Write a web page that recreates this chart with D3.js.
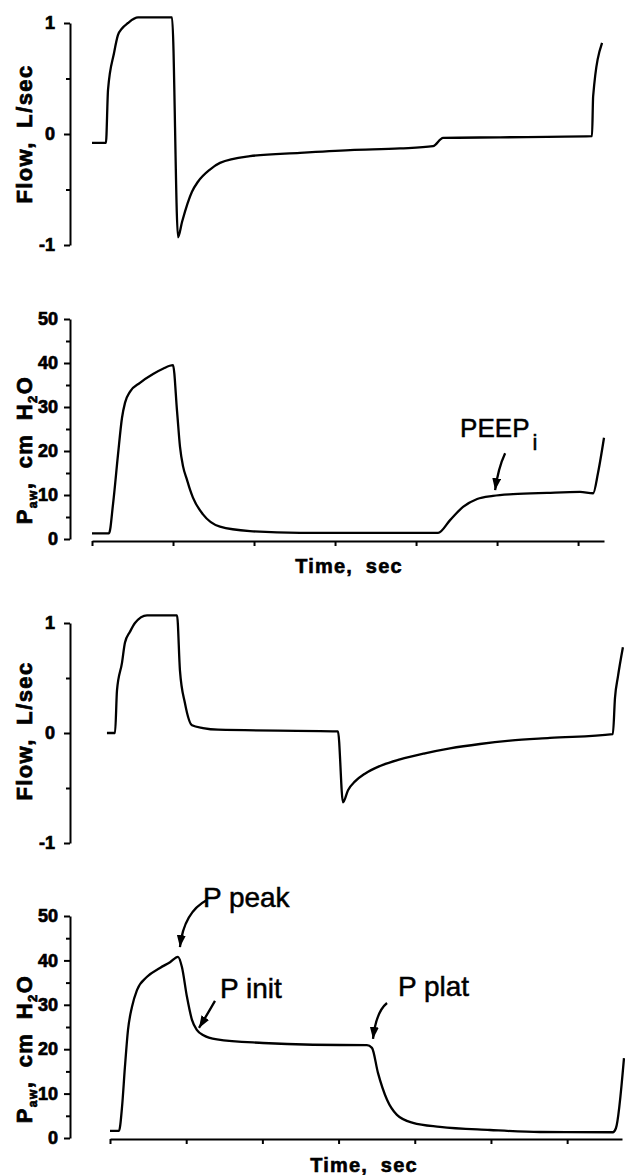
<!DOCTYPE html>
<html>
<head>
<meta charset="utf-8">
<script src="https://cdn.jsdelivr.net/npm/d3@7/dist/d3.min.js"></script>
<style>
body { margin: 0; background: #fff; }
text { font-family: "Liberation Sans", Arial, sans-serif; fill: #000; }
</style>
</head>
<body>
<script>
/* ----------------------------------------------------------------------------
Flow and airway pressure tracings, two breaths, four stacked panels.
-----------------------------------------------------------------------------*/

//Breath A: flow (L/sec) and airway pressure (cm H2O), time in sec
var flowTimeA = [0, 0.086, 0.099, 0.136, 0.160, 0.185, 0.222, 0.284, 0.494,
    0.531, 0.556, 0.617, 0.654, 0.728, 0.790, 0.975, 1.284, 1.593, 1.901,
    2.105, 2.167, 2.519, 3.086, 3.093, 3.148];
var flowA = [-0.08, -0.08, 0.40, 0.73, 0.89, 0.95, 1.00, 1.05, 1.05,
    -0.93, -0.79, -0.52, -0.43, -0.32, -0.26, -0.20, -0.17, -0.145, -0.13,
    -0.11, -0.035, -0.03, -0.02, 0.34, 0.82];

var pawTimeA = [0, 0.105, 0.130, 0.160, 0.185, 0.204, 0.235, 0.296, 0.377,
    0.438, 0.500, 0.525, 0.543, 0.562, 0.586, 0.605, 0.623, 0.685, 0.790,
    0.975, 1.284, 2.136, 2.210, 2.290, 2.377, 2.475, 2.599, 2.809, 3.012,
    3.093, 3.123, 3.160];
var pawA = [1.3, 1.3, 8, 19, 27.5, 31, 33.5, 35.5, 37.5, 38.7, 39.5, 29,
    21, 16.5, 13.5, 11.2, 9.4, 5.6, 2.8, 1.8, 1.4, 1.4, 4.3, 7.3, 9.1, 9.8,
    10.2, 10.5, 10.7, 10.4, 15, 23];

//Breath B
var flowTimeB = [-0.02, 0.033, 0.046, 0.079, 0.098, 0.131, 0.164, 0.243,
    0.440, 0.459, 0.492, 0.538, 0.610, 0.709, 1.496, 1.529, 1.562, 1.608,
    1.673, 1.772, 1.903, 2.067, 2.231, 2.428, 2.625, 2.887, 3.300, 3.314,
    3.333, 3.366];
var flowB = [0, 0, 0.39, 0.64, 0.82, 0.92, 1.0, 1.07, 1.07, 0.57, 0.27,
    0.07, 0.045, 0.03, 0.015, -0.63, -0.52, -0.44, -0.37, -0.30, -0.24,
    -0.185, -0.14, -0.10, -0.07, -0.045, -0.01, 0.32, 0.51, 0.78];

var pawTimeB = [0, 0.059, 0.079, 0.098, 0.118, 0.144, 0.177, 0.243, 0.328,
    0.394, 0.446, 0.472, 0.505, 0.538, 0.571, 0.610, 0.702, 1.004, 1.332,
    1.686, 1.719, 1.759, 1.818, 1.883, 1.988, 2.165, 2.493, 2.822, 3.300,
    3.320, 3.373];
var pawB = [1.6, 1.6, 7, 16, 24.3, 29.5, 33.3, 36.3, 38.3, 39.6, 40.8, 38.5,
    31.8, 26.6, 24.3, 23.2, 22.2, 21.4, 21.0, 20.9, 20.3, 14.6, 8.6, 5.2,
    3.4, 2.5, 1.8, 1.35, 1.3, 2.2, 18];

//Tick values
var flowTicks = [-1, 0, 1];
var flowMinor = [-0.5, 0.5];
var pawTicks = [0, 10, 20, 30, 40, 50];
var pawMinor = [5, 15, 25, 35, 45];
var timeTicks = [0, 0.5, 1, 1.5, 2, 2.5, 3];

//Annotations: label, panel, and the point (time, value) the arrow hits
var noteLabels = ["PEEP", "P peak", "P init", "P plat"];
var notePanels = [1, 3, 3, 3];
var noteTimes = [2.488, 0.459, 0.584, 1.726];
var noteValues = [11.1, 43, 24.8, 22.3];

var width = 625, height = 1175, axisX = 70;

var svg = d3.select("body")
    .append("svg")
    .attr("width", width)
    .attr("height", height);

svg.append("defs").append("marker")
    .attr("id", "head")
    .attr("viewBox", "0 0 12 9")
    .attr("refX", 12)
    .attr("refY", 4.5)
    .attr("markerWidth", 12)
    .attr("markerHeight", 9)
    .attr("markerUnits", "userSpaceOnUse")
    .attr("orient", "auto")
    .append("path")
    .attr("d", "M0,0 L12,4.5 L0,9 Z");

//Panel layout
var panels = [
    {time: flowTimeA, value: flowA, yDomain: [-1, 1], yRange: [245, 23],
     xDomain: [0, 3.16], xRange: [92, 604], majors: flowTicks,
     minors: flowMinor, pad: 9, label: "flow", labelY: 134, timeY: null},
    {time: pawTimeA, value: pawA, yDomain: [0, 50], yRange: [539, 319],
     xDomain: [0, 3.16], xRange: [92, 604], majors: pawTicks,
     minors: pawMinor, pad: 6, label: "paw", labelY: 450, timeY: 541,
     timeLabelX: 349, timeLabelY: 573},
    {time: flowTimeB, value: flowB, yDomain: [-1, 1], yRange: [843, 623],
     xDomain: [0, 3.36], xRange: [110, 622], majors: flowTicks,
     minors: flowMinor, pad: 9, label: "flow", labelY: 731, timeY: null},
    {time: pawTimeB, value: pawB, yDomain: [0, 50], yRange: [1138, 916],
     xDomain: [0, 3.36], xRange: [110, 622], majors: pawTicks,
     minors: pawMinor, pad: 6, label: "paw", labelY: 1049, timeY: 1139,
     timeLabelX: 364, timeLabelY: 1172}
];

panels.forEach(function(p) {
    p.x = d3.scaleLinear().domain(p.xDomain).range(p.xRange);
    p.y = d3.scaleLinear().domain(p.yDomain).range(p.yRange);

    //y axis with major ticks
    var gy = svg.append("g")
        .attr("transform", "translate(" + axisX + ",0)")
        .call(d3.axisLeft(p.y)
            .tickValues(p.majors)
            .tickSize(6)
            .tickSizeOuter(0)
            .tickPadding(p.pad)
            .tickFormat(function(d) { return d < 0 ? "-" + (-d) : d; }))
        .attr("font-family", "Liberation Sans, Arial, sans-serif")
        .attr("font-size", 18)
        .attr("font-weight", "bold");
    gy.selectAll("path, line").attr("stroke-width", 2);
    gy.selectAll("text")
        .attr("stroke", "#000")
        .attr("stroke-width", 0.7);

    //minor ticks
    svg.append("g")
        .attr("transform", "translate(" + axisX + ",0)")
        .call(d3.axisLeft(p.y)
            .tickValues(p.minors)
            .tickSize(4)
            .tickSizeOuter(0)
            .tickFormat(""))
        .call(function(g) { g.select(".domain").remove(); })
        .selectAll("line").attr("stroke-width", 2);

    //time axis
    if (p.timeY) {
        var gx = svg.append("g")
            .attr("transform", "translate(0," + p.timeY + ")")
            .call(d3.axisBottom(p.x)
                .tickValues(timeTicks)
                .tickSize(5)
                .tickSizeOuter(0)
                .tickFormat(""));
        gx.selectAll("path, line").attr("stroke-width", 2);

        svg.append("text")
            .attr("x", p.timeLabelX)
            .attr("y", p.timeLabelY)
            .attr("text-anchor", "middle")
            .attr("font-size", 20)
            .attr("font-weight", "bold")
            .attr("letter-spacing", 1.2)
            .attr("word-spacing", 6)
            .attr("stroke", "#000")
            .attr("stroke-width", 0.6)
            .text("Time, sec");
    }

    //y label
    var lab = svg.append("text")
        .attr("transform", "translate(32," + p.labelY + ") rotate(-90)")
        .attr("text-anchor", "middle")
        .attr("font-size", 22)
        .attr("font-weight", "bold")
        .attr("letter-spacing", 1.4)
        .attr("word-spacing", 6)
        .attr("stroke", "#000")
        .attr("stroke-width", 0.7);
    if (p.label == "flow") {
        lab.text("Flow, L/sec");
    } else {
        lab.append("tspan").text("P");
        lab.append("tspan").attr("font-size", 12).attr("dy", 5).text("aw");
        lab.append("tspan").attr("dy", -5).text(", cm H");
        lab.append("tspan").attr("font-size", 13).attr("dy", 5).text("2");
        lab.append("tspan").attr("dy", -5).text("O");
    }

    //trace
    var line = d3.line()
        .x(function(d, i) { return p.x(p.time[i]); })
        .y(function(d) { return p.y(d); })
        .curve(d3.curveMonotoneX);

    svg.append("path")
        .datum(p.value)
        .attr("fill", "none")
        .attr("stroke", "#000")
        .attr("stroke-width", 2.3)
        .attr("stroke-linejoin", "round")
        .attr("d", line);
});

//Annotation arrows: tail offset, bend offset, text offset from the tip
var noteTail = [[10, -37], [27, -47], [16, -27], [14, -36]];
var noteBend = [[3, -22], [4, -35], [8, -13], [3, -27]];
var noteText = [[-35, -53], [23, -40], [21, -30], [25, -43]];

noteLabels.forEach(function(name, i) {
    var p = panels[notePanels[i]];
    var tx = p.x(noteTimes[i]), ty = p.y(noteValues[i]);
    var path = d3.path();
    path.moveTo(tx + noteTail[i][0], ty + noteTail[i][1]);
    path.quadraticCurveTo(tx + noteBend[i][0], ty + noteBend[i][1], tx, ty);

    svg.append("path")
        .attr("d", path.toString())
        .attr("fill", "none")
        .attr("stroke", "#000")
        .attr("stroke-width", 2.3)
        .attr("marker-end", "url(#head)");

    var t = svg.append("text")
        .attr("x", tx + noteText[i][0])
        .attr("y", ty + noteText[i][1])
        .attr("font-size", name == "PEEP" ? 26 : 28)
        .attr("stroke", "#000")
        .attr("stroke-width", 0.5)
        .text(name);
    if (name == "PEEP") {
        t.append("tspan")
            .attr("font-size", 22)
            .attr("dx", 3)
            .attr("dy", 13)
            .text("i");
    }
});
</script>
</body>
</html>
